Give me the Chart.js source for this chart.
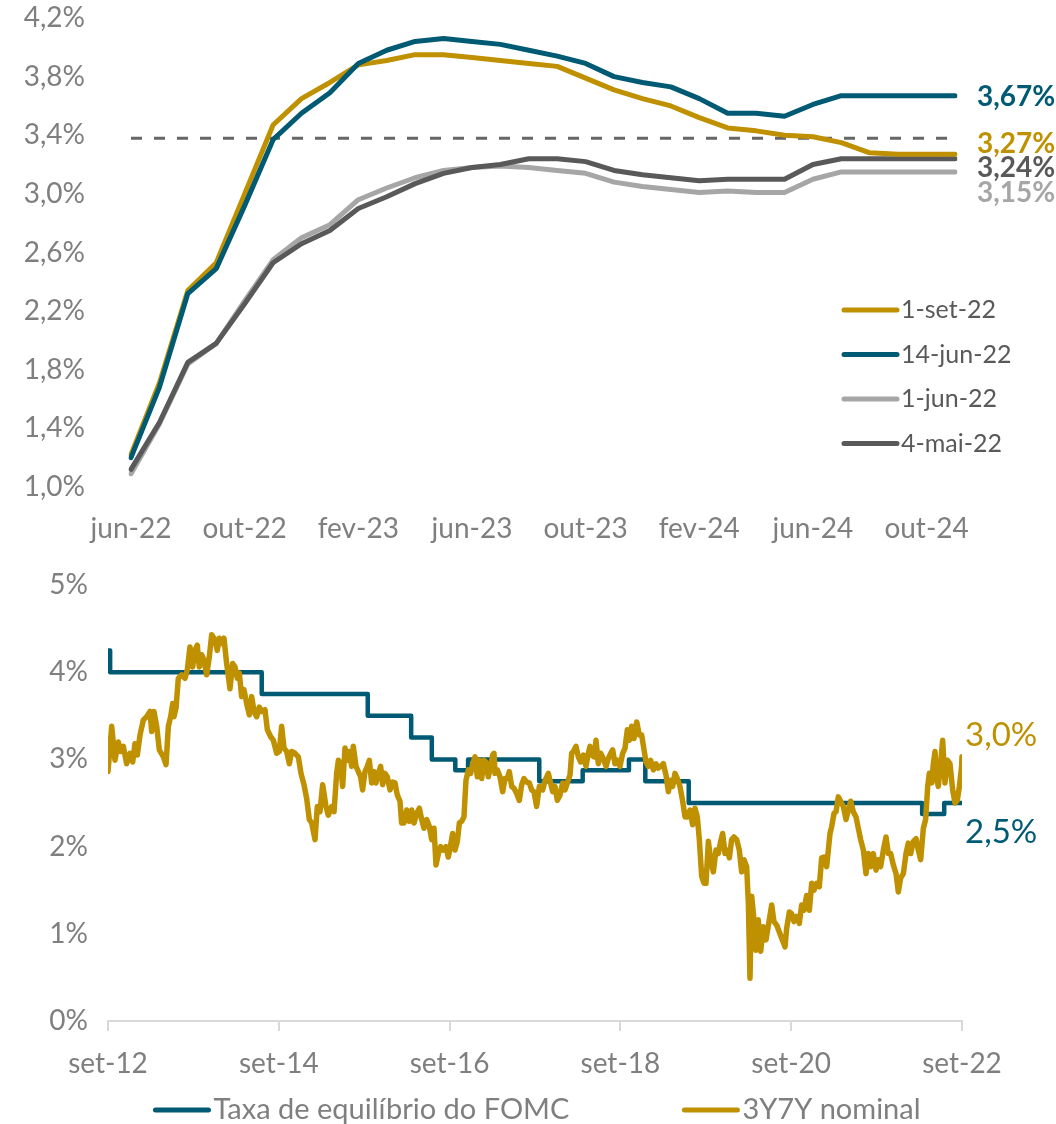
<!DOCTYPE html>
<html>
<head>
<meta charset="utf-8">
<script src="https://cdn.jsdelivr.net/npm/chart.js@4.4.0/dist/chart.umd.min.js"></script>
<style>
  html, body { margin: 0; padding: 0; background: #fff; }
  #painelTopo { position: absolute; left: 0; top: 0; width: 1056px; height: 545px; }
  #painelBase { position: absolute; left: 0; top: 545px; width: 1056px; height: 579px; }
</style>
</head>
<body>
<div id="painelTopo"><canvas id="curvas" width="1056" height="545"></canvas></div>
<div id="painelBase"><canvas id="historico" width="1056" height="579"></canvas></div>
<script>
// ---- dados do gráfico de cima (curva de juros implícita, mensal) ----
var meses = ['jun-22','jul-22','ago-22','set-22','out-22','nov-22','dez-22','jan-23','fev-23','mar-23',
             'abr-23','mai-23','jun-23','jul-23','ago-23','set-23','out-23','nov-23','dez-23','jan-24',
             'fev-24','mar-24','abr-24','mai-24','jun-24','jul-24','ago-24','set-24','out-24','nov-24'];
var curva1Set22  = [1.22,1.71,2.34,2.53,3.00,3.47,3.65,3.76,3.88,3.91,3.95,3.95,3.93,3.91,3.89,
                    3.87,3.79,3.71,3.65,3.60,3.52,3.45,3.43,3.40,3.39,3.35,3.28,3.27,3.27,3.27];
var curva14Jun22 = [1.20,1.68,2.32,2.49,2.92,3.37,3.55,3.69,3.89,3.98,4.04,4.06,4.04,4.02,3.98,
                    3.94,3.89,3.80,3.76,3.73,3.65,3.55,3.55,3.53,3.61,3.67,3.67,3.67,3.67,3.67];
var curva1Jun22  = [1.09,1.43,1.84,1.98,2.27,2.55,2.70,2.79,2.96,3.04,3.11,3.16,3.18,3.19,3.18,
                    3.16,3.14,3.08,3.05,3.03,3.01,3.02,3.01,3.01,3.10,3.15,3.15,3.15,3.15,3.15];
var curva4Mai22  = [1.12,1.44,1.85,1.98,2.25,2.53,2.66,2.75,2.90,2.98,3.07,3.14,3.18,3.20,3.24,
                    3.24,3.22,3.16,3.13,3.11,3.09,3.10,3.10,3.10,3.20,3.24,3.24,3.24,3.24,3.24];
var nivelReferencia = 3.38;

// ---- dados do gráfico de baixo (meses desde set-12) ----
var fomcMeses   = [0, 0.3, 21.6, 36.5, 42.6, 45.5, 48.8, 50.6, 60.6, 66.7, 73.2, 75.5, 81.6, 114.4, 117.5, 120];
var fomcValores = [4.25, 4.0, 3.75, 3.5, 3.25, 3.0, 2.875, 3.0, 2.75, 2.875, 3.0, 2.75, 2.5, 2.375, 2.5, 2.5];

var nominalMeses = [
  0,0.52,0.98,1.45,1.78,2.15,2.62,3.09,3.47,3.79,4.12,4.5,4.96,5.43,5.9,6.14,6.46,6.84,7.21,7.78,
  8.15,8.48,8.81,9.09,9.27,9.56,9.88,10.35,10.82,11.15,11.52,11.9,12.22,12.55,12.83,13.16,13.49,13.86,14.24,14.57,
  15.04,15.36,15.64,15.97,16.3,16.67,17.14,17.52,17.85,18.17,18.45,18.78,19.11,19.48,19.86,20.19,20.52,20.89,21.26,21.59,
  22.06,22.39,22.86,23.23,23.7,24.07,24.4,24.73,25.11,25.48,25.81,26.28,26.74,27.12,27.54,27.92,28.29,28.62,29.09,29.41,
  29.79,30.16,30.63,30.96,31.43,31.76,32.13,32.37,32.69,32.97,33.3,33.63,33.91,34.24,34.47,34.85,35.18,35.5,35.78,36.11,
  36.44,36.72,37.05,37.38,37.66,37.99,38.31,38.59,38.92,39.25,39.63,40,40.33,40.66,41.03,41.26,41.59,41.97,42.34,42.67,
  43,43.37,43.75,44.08,44.4,44.78,45.15,45.48,45.81,46.09,46.42,46.74,47.12,47.49,47.82,48.15,48.43,48.76,49.09,49.37,
  49.7,50.02,50.3,50.63,50.96,51.24,51.57,51.9,52.18,52.51,52.83,53.11,53.44,53.77,54.05,54.24,54.38,54.71,55.08,55.46,
  55.78,56.11,56.39,56.72,57.05,57.42,57.8,58.13,58.45,58.83,59.2,59.53,59.86,60.23,60.61,61.08,61.41,61.87,62.48,62.81,
  63.14,63.51,63.89,64.22,64.54,64.92,65.15,65.39,65.76,66.09,66.42,66.79,67.17,67.49,67.73,67.96,68.29,68.57,68.9,69.23,
  69.6,69.98,70.3,70.63,70.91,71.24,71.57,71.94,72.32,72.65,72.97,73.25,73.58,73.91,74.29,74.66,74.99,75.32,75.6,75.93,
  76.25,76.63,77,77.33,77.66,78.03,78.41,78.74,79.06,79.34,79.67,80,80.37,80.75,81.08,81.41,81.78,82.15,82.48,82.81,
  83.09,83.42,83.75,84.03,84.36,84.68,85.06,85.43,85.76,86.09,86.37,86.7,87.03,87.31,87.63,87.96,88.34,88.71,89.04,89.37,
  89.74,89.98,90.21,90.45,90.77,91.05,91.38,91.71,92.08,92.46,93.26,93.58,93.96,94.33,94.66,95.13,95.36,95.74,96.07,96.39,
  96.77,97.14,97.47,97.8,98.17,98.55,98.88,99.2,99.58,99.95,100.28,100.61,100.98,101.22,101.45,101.69,102.01,102.3,102.62,102.95,
  103.33,103.7,104.03,104.36,104.73,105.11,105.43,105.76,106.14,106.51,106.84,107.17,107.54,107.92,108.24,108.57,108.95,109.32,109.65,109.98,
  110.35,110.73,111.05,111.38,111.76,112.13,112.46,112.79,113.16,113.54,113.86,114.19,114.57,114.89,115.18,115.41,115.74,115.97,116.21,116.44,
  116.67,117,117.28,117.61,117.94,118.31,118.69,119.02,119.34,119.63,119.95,120
];
var nominalValores = [
  2.86,3.38,2.99,3.20,3.09,3.15,2.95,3.07,2.97,3.18,3.05,3.28,3.45,3.49,3.55,3.32,3.55,3.38,3.11,3.03,
  2.94,3.38,3.49,3.64,3.49,3.59,3.93,3.97,3.93,4.03,4.29,4.06,4.25,4.31,4.06,4.20,4.14,3.97,4.18,4.43,
  4.37,4.25,4.39,4.33,4.39,4.10,3.81,4.10,4.06,3.93,3.99,3.72,3.80,3.64,3.51,3.72,3.55,3.49,3.60,3.55,
  3.57,3.34,3.26,3.22,3.07,3.09,3.38,3.13,3.09,2.95,3.09,3.07,3.03,2.84,2.71,2.55,2.31,2.27,2.08,2.46,
  2.40,2.71,2.46,2.36,2.46,2.40,2.84,2.99,2.95,2.69,3.13,2.99,3.09,2.92,3.15,2.92,2.86,2.80,2.65,2.86,
  2.92,2.99,2.73,2.86,2.73,2.84,2.92,2.71,2.84,2.80,2.65,2.74,2.73,2.59,2.52,2.27,2.27,2.42,2.29,2.42,
  2.27,2.38,2.44,2.31,2.21,2.31,2.23,2.08,2.21,1.79,1.92,2.00,1.96,2.00,1.88,2.02,2.15,1.96,2.06,2.27,
  2.29,2.34,2.76,2.88,2.84,2.95,3.03,2.80,2.99,2.78,2.99,2.97,2.80,2.92,3.05,3.07,2.84,2.88,2.80,2.63,
  2.78,2.78,2.86,2.69,2.67,2.61,2.53,2.71,2.78,2.74,2.73,2.65,2.63,2.46,2.69,2.65,2.76,2.84,2.63,2.69,
  2.53,2.59,2.73,2.65,2.73,2.82,3.07,3.09,3.15,3.03,2.97,3.05,2.92,3.07,3.15,3.05,3.03,3.22,2.95,3.07,
  3.01,2.92,3.01,3.07,3.11,2.95,2.99,2.92,3.07,3.13,3.34,3.22,3.38,3.24,3.43,3.28,3.28,3.11,2.97,2.92,
  2.99,2.88,2.95,2.90,2.92,2.95,2.82,2.63,2.76,2.69,2.84,2.78,2.69,2.52,2.34,2.34,2.42,2.25,2.44,2.34,
  2.08,1.66,1.58,1.58,2.06,1.85,1.71,1.96,1.92,2.06,2.15,1.92,1.96,1.87,2.08,2.11,2.08,1.96,1.71,1.85,
  1.77,1.35,0.49,1.43,1.16,0.81,1.16,0.80,1.08,0.93,1.33,1.14,1.10,1.02,0.95,0.85,1.06,1.25,1.23,1.14,
  1.20,1.12,1.33,1.27,1.44,1.27,1.58,1.50,1.58,1.54,1.87,1.88,1.77,1.96,2.15,2.23,2.38,2.40,2.57,2.52,
  2.46,2.31,2.42,2.52,2.40,2.34,2.21,2.08,1.96,1.69,1.92,1.77,1.92,1.73,1.85,1.77,1.96,2.11,1.92,1.92,
  1.79,1.69,1.48,1.64,1.69,1.92,2.04,1.92,2.06,2.09,1.96,1.85,2.21,2.31,2.69,2.84,2.73,2.95,3.09,2.78,
  2.69,2.95,3.22,2.73,2.99,2.95,2.65,2.50,2.53,2.69,2.92,3.03
];

var OURO = '#BF9000', AZUL = '#005A73', CINZA_ESC = '#595959', CINZA_CLARO = '#A6A6A6';
var FONTE = 'Lato';
var corEixo = '#7F7F7F';

function virgula(v, casas) {
    return v.toFixed(casas).replace('.', ',');
}

// ---------------- gráfico de cima ----------------
var seriesTopo = [
    { nome: '1-set-22',  dados: curva1Set22,  cor: OURO,        ordem: 1, desloc: -10 },
    { nome: '14-jun-22', dados: curva14Jun22, cor: AZUL,        ordem: 0, desloc: 1 },
    { nome: '1-jun-22',  dados: curva1Jun22,  cor: CINZA_CLARO, ordem: 3, desloc: 21 },
    { nome: '4-mai-22',  dados: curva4Mai22,  cor: CINZA_ESC,   ordem: 2, desloc: 9 }
];

var extrasTopo = {
    id: 'extrasTopo',
    beforeDatasetsDraw: function (chart) {
        // linha tracejada de referência
        var ctx = chart.ctx, area = chart.chartArea;
        var y = chart.scales.y.getPixelForValue(nivelReferencia);
        ctx.save();
        ctx.strokeStyle = '#666666';
        ctx.lineWidth = 3;
        ctx.setLineDash([11, 12]);
        ctx.beginPath();
        ctx.moveTo(area.left, y);
        ctx.lineTo(area.right, y);
        ctx.stroke();
        ctx.restore();
    },
    afterDatasetsDraw: function (chart) {
        var ctx = chart.ctx, area = chart.chartArea;
        ctx.save();
        // rótulos no fim das curvas
        ctx.font = 'bold 28px ' + FONTE;
        ctx.textBaseline = 'middle';
        ctx.textAlign = 'left';
        seriesTopo.forEach(function (s, i) {
            var pts = chart.getDatasetMeta(i).data;
            var ultimo = pts[pts.length - 1];
            ctx.fillStyle = s.cor;
            ctx.fillText(virgula(s.dados[s.dados.length - 1], 2) + '%', area.right + 22, ultimo.y + s.desloc);
        });
        // legenda dentro da área
        ctx.font = '25px ' + FONTE;
        ctx.lineCap = 'round';
        ctx.lineWidth = 5;
        seriesTopo.forEach(function (s, i) {
            var y = area.top + 292 + i * 44.5;
            ctx.strokeStyle = s.cor;
            ctx.beginPath();
            ctx.moveTo(area.right - 111, y);
            ctx.lineTo(area.right - 58, y);
            ctx.stroke();
            ctx.fillStyle = CINZA_ESC;
            ctx.fillText(s.nome, area.right - 54, y);
        });
        ctx.restore();
    }
};

new Chart(document.getElementById('curvas').getContext('2d'), {
    type: 'line',
    data: {
        labels: meses,
        datasets: seriesTopo.map(function (s) {
            return {
                label: s.nome,
                data: s.dados,
                borderColor: s.cor,
                borderWidth: 5,
                pointRadius: 0,
                tension: 0,
                borderJoinStyle: 'round',
                borderCapStyle: 'round',
                order: s.ordem
            };
        })
    },
    options: {
        responsive: false,
        animation: false,
        layout: { padding: { top: 18, right: 101, left: 0, bottom: 0 } },
        plugins: { legend: { display: false }, tooltip: { enabled: false } },
        scales: {
            x: {
                grid: { display: false },
                border: { display: false },
                ticks: {
                    autoSkip: false, maxRotation: 0, padding: 17,
                    color: corEixo, font: { family: FONTE, size: 28 },
                    callback: function (v, i) { return i % 4 === 0 ? this.getLabelForValue(v) : ''; }
                },
                afterFit: function (s) { s.height = 58; }
            },
            y: {
                min: 1.0, max: 4.2,
                // marcas invisíveis: só servem para afastar os rótulos do eixo
                grid: { display: false, drawTicks: true, tickLength: 46 },
                border: { display: false },
                ticks: {
                    stepSize: 0.4, padding: 0,
                    color: corEixo, font: { family: FONTE, size: 28 },
                    callback: function (v) { return virgula(v, 1) + '%'; }
                },
                afterFit: function (s) { s.width = 131; }
            }
        }
    },
    plugins: [extrasTopo]
});

// ---------------- gráfico de baixo ----------------
var seriesBase = [
    { nome: '3Y7Y nominal', cor: OURO, desloc: -21 },
    { nome: 'Taxa de equilíbrio do FOMC', cor: AZUL, desloc: 29 }
];

var extrasBase = {
    id: 'extrasBase',
    afterDatasetsDraw: function (chart) {
        var ctx = chart.ctx, area = chart.chartArea;
        ctx.save();
        ctx.font = '33px ' + FONTE;
        ctx.textBaseline = 'middle';
        ctx.textAlign = 'left';
        [nominalValores, fomcValores].forEach(function (vals, i) {
            var pts = chart.getDatasetMeta(i).data;
            var ultimo = pts[pts.length - 1];
            ctx.fillStyle = seriesBase[i].cor;
            ctx.fillText(virgula(vals[vals.length - 1], 1) + '%', area.right + 3, ultimo.y + seriesBase[i].desloc);
        });

        // legenda embaixo, centralizada
        ctx.font = '29px ' + FONTE;
        var ordem = [seriesBase[1], seriesBase[0]];
        var linha = 53, gap = 5, entre = 115;
        var larguras = ordem.map(function (s) { return ctx.measureText(s.nome).width; });
        var total = linha * 2 + gap * 2 + larguras[0] + larguras[1] + entre;
        var x = (chart.width - total) / 2 + 10;
        var y = chart.height - 14;
        ctx.lineCap = 'round';
        ctx.lineWidth = 5;
        ordem.forEach(function (s, i) {
            ctx.strokeStyle = s.cor;
            ctx.beginPath();
            ctx.moveTo(x, y);
            ctx.lineTo(x + linha, y);
            ctx.stroke();
            ctx.fillStyle = corEixo;
            ctx.fillText(s.nome, x + linha + gap, y);
            x += linha + gap + larguras[i] + entre;
        });
        ctx.restore();
    }
};

new Chart(document.getElementById('historico').getContext('2d'), {
    type: 'line',
    data: {
        datasets: [
            {
                label: '3Y7Y nominal',
                data: nominalMeses.map(function (m, i) { return { x: m, y: nominalValores[i] }; }),
                borderColor: OURO,
                borderWidth: 5.5,
                pointRadius: 0,
                borderJoinStyle: 'round',
                borderCapStyle: 'round',
                order: 0
            },
            {
                label: 'Taxa de equilíbrio do FOMC',
                data: fomcMeses.map(function (m, i) { return { x: m, y: fomcValores[i] }; }),
                borderColor: AZUL,
                borderWidth: 4.5,
                pointRadius: 0,
                stepped: 'before',
                borderJoinStyle: 'round',
                borderCapStyle: 'round',
                order: 1
            }
        ]
    },
    options: {
        responsive: false,
        animation: false,
        layout: { padding: { top: 40, right: 94, left: 0, bottom: 0 } },
        plugins: { legend: { display: false }, tooltip: { enabled: false } },
        scales: {
            x: {
                type: 'linear', min: 0, max: 120,
                grid: { display: true, drawOnChartArea: false, drawTicks: true, tickLength: 10, color: '#D9D9D9', lineWidth: 2 },
                border: { display: true, color: '#D9D9D9', width: 2 },
                ticks: {
                    stepSize: 24, padding: 16, maxRotation: 0,
                    color: corEixo, font: { family: FONTE, size: 28 },
                    callback: function (v) { return 'set-' + String(12 + v / 12); }
                },
                afterFit: function (s) { s.height = 103; }
            },
            y: {
                min: 0, max: 5,
                grid: { display: false },
                border: { display: false },
                ticks: {
                    stepSize: 1, padding: 12,
                    color: corEixo, font: { family: FONTE, size: 28 },
                    callback: function (v) { return v + '%'; }
                },
                afterFit: function (s) { s.width = 108; }
            }
        }
    },
    plugins: [extrasBase]
});
</script>
</body>
</html>
